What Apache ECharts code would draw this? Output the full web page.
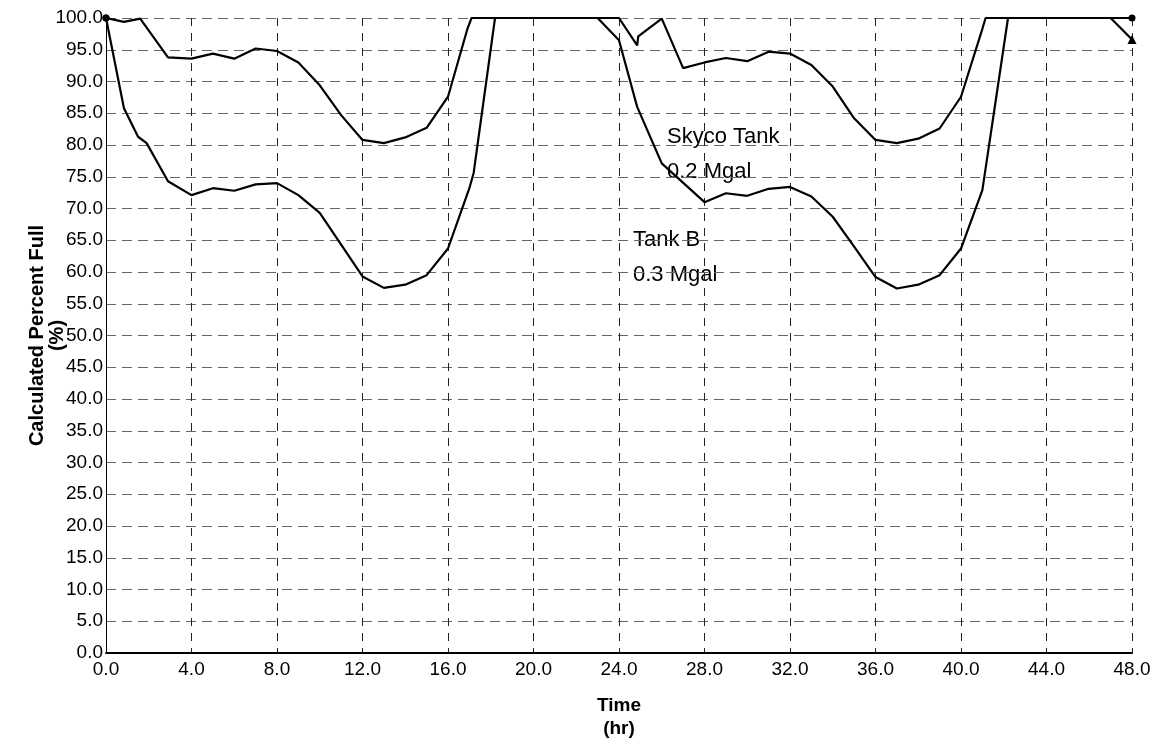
<!DOCTYPE html>
<html>
<head>
<meta charset="utf-8">
<script src="https://cdn.jsdelivr.net/npm/echarts@6/dist/echarts.min.js"></script>
<style>
  html, body { margin: 0; padding: 0; background: #fff; }
  #chart { width: 1163px; height: 751px; }
</style>
</head>
<body>
<div id="chart"></div>
<script>
// time in hours, percent full
var skycoTime = [0, 0.84, 1.6, 2.9, 4, 5, 6, 7, 8, 9, 10, 11, 12, 13, 14, 15, 16, 16.9, 17.1,
  24, 24.85, 24.9, 26, 27, 28, 29, 30, 31, 32, 33, 34, 35, 36, 37, 38, 39, 40, 41, 41.15, 47, 48];
var skycoPct = [100, 99.4, 99.9, 93.8, 93.6, 94.4, 93.6, 95.2, 94.8, 93.0, 89.4, 84.7, 80.8, 80.3, 81.2, 82.7, 87.6, 98.2, 100,
  100, 95.7, 97.1, 99.9, 92.1, 93.0, 93.7, 93.2, 94.7, 94.4, 92.6, 89.2, 84.2, 80.8, 80.3, 81.0, 82.6, 87.6, 98.3, 100, 100, 96.6];

var tankBTime = [0, 0.84, 1.5, 1.9, 2.9, 4, 5, 6, 7, 8, 9, 10, 11, 12, 13, 14, 15, 16, 17,
  17.2, 18.2, 23, 24, 24.85, 26, 28, 29, 30, 31, 32, 33, 34, 35, 36, 37, 38, 39, 40, 41, 42.2, 48];
var tankBPct = [100, 85.8, 81.3, 80.3, 74.3, 72.1, 73.2, 72.8, 73.8, 74.0, 72.1, 69.3, 64.3, 59.3, 57.5, 58.0, 59.5, 63.7, 73.2,
  75.6, 100, 100, 96.5, 86.0, 77.1, 71.0, 72.4, 72.0, 73.1, 73.4, 71.9, 68.7, 64.0, 59.2, 57.4, 58.0, 59.5, 63.7, 72.9, 100, 100];

var labels = [
  { text: 'Skyco Tank\n0.2 Mgal', x: 667, y: 119 },
  { text: 'Tank B\n0.3 Mgal', x: 633, y: 222 }
];

// only the end points get a marker
function pairs(ts, vs, endSymbol) {
  var out = [];
  for (var i = 0; i < ts.length; i++) {
    var item = { value: [ts[i], vs[i]], symbolSize: 0 };
    if (i === 0) { item.symbol = 'circle'; item.symbolSize = 7; }
    if (i === ts.length - 1) { item.symbol = endSymbol; item.symbolSize = endSymbol === 'circle' ? 7 : 9; }
    out.push(item);
  }
  return out;
}

var font = '"Liberation Sans", Arial, sans-serif';

var myChart = echarts.init(document.getElementById('chart'));
var option = {
  animation: false,
  backgroundColor: '#fff',
  grid: { left: 106, right: 31, top: 18, bottom: 98, outerBoundsMode: 'none' },
  xAxis: {
    type: 'value',
    min: 0, max: 48, interval: 4,
    name: 'Time\n(hr)',
    nameLocation: 'middle',
    nameGap: 41,
    nameMoveOverlap: false,
    nameTextStyle: { color: '#000', fontFamily: font, fontSize: 19, fontWeight: 'bold', lineHeight: 23 },
    axisLine: { lineStyle: { color: '#000', width: 2 } },
    axisTick: { show: false },
    axisLabel: {
      color: '#000', fontFamily: font, fontSize: 19, margin: 7,
      formatter: function (v) { return v.toFixed(1); }
    },
    splitLine: { show: true, lineStyle: { color: '#222', type: [8, 7], width: 1 } }
  },
  yAxis: {
    type: 'value',
    min: 0, max: 100, interval: 5,
    name: 'Calculated Percent Full\n(%)',
    nameLocation: 'middle',
    nameGap: 39,
    nameMoveOverlap: false,
    nameTextStyle: { color: '#000', fontFamily: font, fontSize: 20, fontWeight: 'bold', lineHeight: 20 },
    axisLine: { show: true, lineStyle: { color: '#000', width: 1 } },
    axisTick: { show: false },
    axisLabel: {
      color: '#000', fontFamily: font, fontSize: 19, margin: 3,
      formatter: function (v) { return v.toFixed(1); }
    },
    splitLine: { show: true, lineStyle: { color: '#666', type: [10, 6], width: 1 } }
  },
  graphic: labels.map(function (l) {
    return {
      type: 'text', left: l.x, top: l.y,
      style: { text: l.text, fill: '#000', font: '22px ' + font, lineHeight: 35 }
    };
  }),
  series: [
    {
      name: 'Skyco Tank',
      type: 'line',
      data: pairs(skycoTime, skycoPct, 'triangle'),
      showSymbol: true,
      lineStyle: { color: '#000', width: 2.2 },
      itemStyle: { color: '#000' }
    },
    {
      name: 'Tank B',
      type: 'line',
      data: pairs(tankBTime, tankBPct, 'circle'),
      showSymbol: true,
      lineStyle: { color: '#000', width: 2.2 },
      itemStyle: { color: '#000' }
    }
  ]
};
myChart.setOption(option);
</script>
</body>
</html>
